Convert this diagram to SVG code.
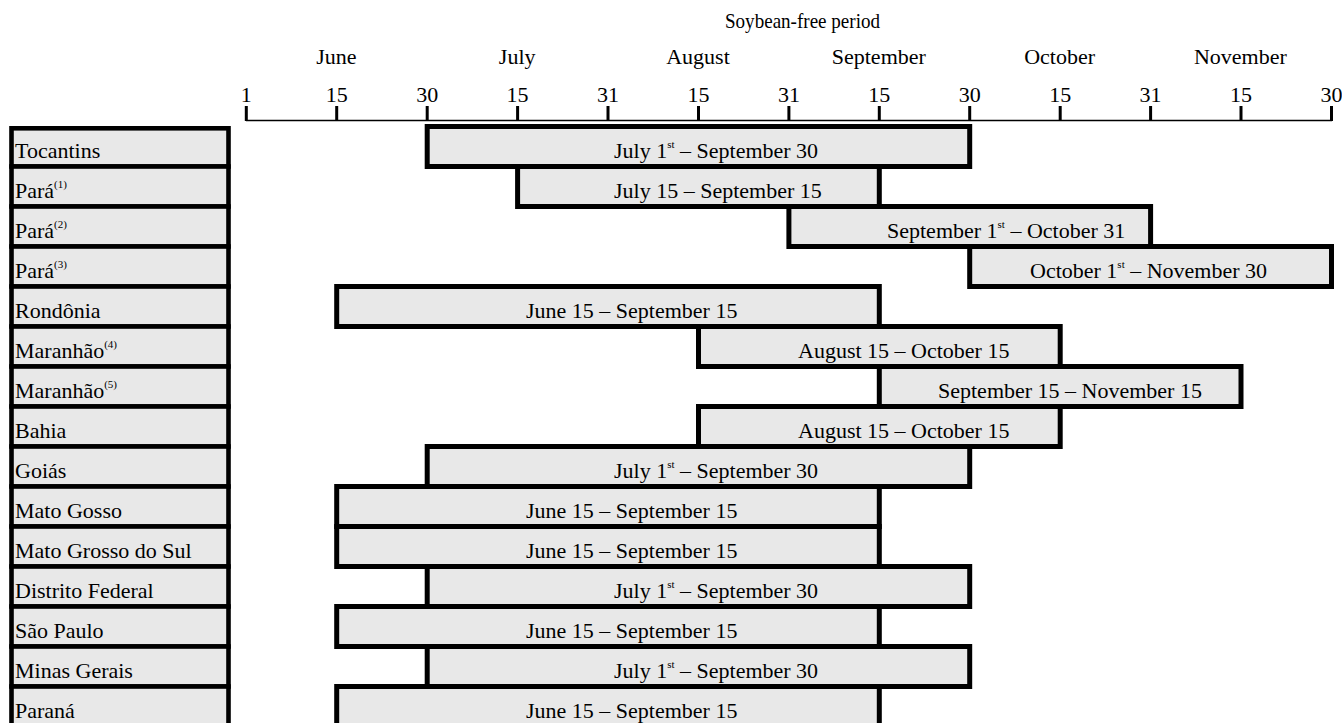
<svg xmlns="http://www.w3.org/2000/svg" width="1342" height="723" viewBox="0 0 1342 723">
<style>
text{font-family:"Liberation Serif","Times New Roman",serif;font-size:22px;fill:#000}
.mid{text-anchor:middle}
.sup{font-size:11px}
.lab{fill:#e8e8e8;stroke:#000;stroke-width:4.6}
.bar{fill:#e8e8e8;stroke:#000;stroke-width:5}
.tick{stroke:#000;stroke-width:3}
.axis{stroke:#000;stroke-width:1.3}
</style>
<rect width="1342" height="723" fill="#fff"/>
<g id="header">
<text x="725" y="28" textLength="155" lengthAdjust="spacingAndGlyphs" style="font-size:21px">Soybean-free period</text>
<text x="336.4" y="63.5" class="mid">June</text>
<text x="517.2" y="63.5" class="mid">July</text>
<text x="698" y="63.5" class="mid">August</text>
<text x="878.8" y="63.5" class="mid">September</text>
<text x="1059.6" y="63.5" class="mid">October</text>
<text x="1240.4" y="63.5" class="mid">November</text>
</g>
<g id="axis">
<line class="axis" x1="246" y1="120.5" x2="1332" y2="120.5"/>
<line class="tick" x1="246.3" y1="106" x2="246.3" y2="121"/>
<line class="tick" x1="336.7" y1="106" x2="336.7" y2="121"/>
<line class="tick" x1="427.2" y1="106" x2="427.2" y2="121"/>
<line class="tick" x1="517.6" y1="106" x2="517.6" y2="121"/>
<line class="tick" x1="608" y1="106" x2="608" y2="121"/>
<line class="tick" x1="698.5" y1="106" x2="698.5" y2="121"/>
<line class="tick" x1="788.9" y1="106" x2="788.9" y2="121"/>
<line class="tick" x1="879.3" y1="106" x2="879.3" y2="121"/>
<line class="tick" x1="969.7" y1="106" x2="969.7" y2="121"/>
<line class="tick" x1="1060.2" y1="106" x2="1060.2" y2="121"/>
<line class="tick" x1="1150.6" y1="106" x2="1150.6" y2="121"/>
<line class="tick" x1="1241" y1="106" x2="1241" y2="121"/>
<line class="tick" x1="1331.5" y1="106" x2="1331.5" y2="121"/>
<text x="246.3" y="101.5" class="mid">1</text>
<text x="336.7" y="101.5" class="mid">15</text>
<text x="427.2" y="101.5" class="mid">30</text>
<text x="517.6" y="101.5" class="mid">15</text>
<text x="608" y="101.5" class="mid">31</text>
<text x="698.5" y="101.5" class="mid">15</text>
<text x="788.9" y="101.5" class="mid">31</text>
<text x="879.3" y="101.5" class="mid">15</text>
<text x="969.7" y="101.5" class="mid">30</text>
<text x="1060.2" y="101.5" class="mid">15</text>
<text x="1150.6" y="101.5" class="mid">31</text>
<text x="1241" y="101.5" class="mid">15</text>
<text x="1331.5" y="101.5" class="mid">30</text>
</g>
<g id="labels">
<g id="lab-tocantins"><rect class="lab" x="11.5" y="128.3" width="217" height="38.2"/><text x="15" y="158">Tocantins</text></g>
<g id="lab-para1"><rect class="lab" x="11.5" y="166.5" width="217" height="40"/><text x="15" y="198">Pará<tspan class="sup" dy="-10">(1)</tspan></text></g>
<g id="lab-para2"><rect class="lab" x="11.5" y="206.5" width="217" height="40"/><text x="15" y="238">Pará<tspan class="sup" dy="-10">(2)</tspan></text></g>
<g id="lab-para3"><rect class="lab" x="11.5" y="246.5" width="217" height="40"/><text x="15" y="278">Pará<tspan class="sup" dy="-10">(3)</tspan></text></g>
<g id="lab-rondonia"><rect class="lab" x="11.5" y="286.5" width="217" height="40"/><text x="15" y="318">Rondônia</text></g>
<g id="lab-maranhao4"><rect class="lab" x="11.5" y="326.5" width="217" height="40"/><text x="15" y="358">Maranhão<tspan class="sup" dy="-10">(4)</tspan></text></g>
<g id="lab-maranhao5"><rect class="lab" x="11.5" y="366.5" width="217" height="40"/><text x="15" y="398">Maranhão<tspan class="sup" dy="-10">(5)</tspan></text></g>
<g id="lab-bahia"><rect class="lab" x="11.5" y="406.5" width="217" height="40"/><text x="15" y="438">Bahia</text></g>
<g id="lab-goias"><rect class="lab" x="11.5" y="446.5" width="217" height="40"/><text x="15" y="478">Goiás</text></g>
<g id="lab-matogosso"><rect class="lab" x="11.5" y="486.5" width="217" height="40"/><text x="15" y="518">Mato Gosso</text></g>
<g id="lab-mgds"><rect class="lab" x="11.5" y="526.5" width="217" height="40"/><text x="15" y="558">Mato Grosso do Sul</text></g>
<g id="lab-df"><rect class="lab" x="11.5" y="566.5" width="217" height="40"/><text x="15" y="598">Distrito Federal</text></g>
<g id="lab-sp"><rect class="lab" x="11.5" y="606.5" width="217" height="40"/><text x="15" y="638">São Paulo</text></g>
<g id="lab-mg"><rect class="lab" x="11.5" y="646.5" width="217" height="40"/><text x="15" y="678">Minas Gerais</text></g>
<g id="lab-parana"><rect class="lab" x="11.5" y="686.5" width="217" height="40"/><text x="15" y="718">Paraná</text></g>
</g>
<g id="bars">
<g id="bar-tocantins"><rect class="bar" x="427.2" y="126.5" width="542.5" height="40"/><text x="614" y="158">July 1<tspan class="sup" dy="-10">st</tspan><tspan dy="10"> – September 30</tspan></text></g>
<g id="bar-para1"><rect class="bar" x="517.6" y="166.5" width="361.7" height="40"/><text x="614" y="198">July 15 – September 15</text></g>
<g id="bar-para2"><rect class="bar" x="788.9" y="206.5" width="361.7" height="40"/><text x="887" y="238">September 1<tspan class="sup" dy="-10">st</tspan><tspan dy="10"> – October 31</tspan></text></g>
<g id="bar-para3"><rect class="bar" x="969.7" y="246.5" width="361.8" height="40"/><text x="1030" y="278">October 1<tspan class="sup" dy="-10">st</tspan><tspan dy="10"> – November 30</tspan></text></g>
<g id="bar-rondonia"><rect class="bar" x="336.7" y="286.5" width="542.6" height="40"/><text x="526" y="318">June 15 – September 15</text></g>
<g id="bar-maranhao4"><rect class="bar" x="698.5" y="326.5" width="361.7" height="40"/><text x="798" y="358">August 15 – October 15</text></g>
<g id="bar-maranhao5"><rect class="bar" x="879.3" y="366.5" width="361.7" height="40"/><text x="938" y="398">September 15 – November 15</text></g>
<g id="bar-bahia"><rect class="bar" x="698.5" y="406.5" width="361.7" height="40"/><text x="798" y="438">August 15 – October 15</text></g>
<g id="bar-goias"><rect class="bar" x="427.2" y="446.5" width="542.5" height="40"/><text x="614" y="478">July 1<tspan class="sup" dy="-10">st</tspan><tspan dy="10"> – September 30</tspan></text></g>
<g id="bar-matogosso"><rect class="bar" x="336.7" y="486.5" width="542.6" height="40"/><text x="526" y="518">June 15 – September 15</text></g>
<g id="bar-mgds"><rect class="bar" x="336.7" y="526.5" width="542.6" height="40"/><text x="526" y="558">June 15 – September 15</text></g>
<g id="bar-df"><rect class="bar" x="427.2" y="566.5" width="542.5" height="40"/><text x="614" y="598">July 1<tspan class="sup" dy="-10">st</tspan><tspan dy="10"> – September 30</tspan></text></g>
<g id="bar-sp"><rect class="bar" x="336.7" y="606.5" width="542.6" height="40"/><text x="526" y="638">June 15 – September 15</text></g>
<g id="bar-mg"><rect class="bar" x="427.2" y="646.5" width="542.5" height="40"/><text x="614" y="678">July 1<tspan class="sup" dy="-10">st</tspan><tspan dy="10"> – September 30</tspan></text></g>
<g id="bar-parana"><rect class="bar" x="336.7" y="686.5" width="542.6" height="40"/><text x="526" y="718">June 15 – September 15</text></g>
</g>
</svg>
